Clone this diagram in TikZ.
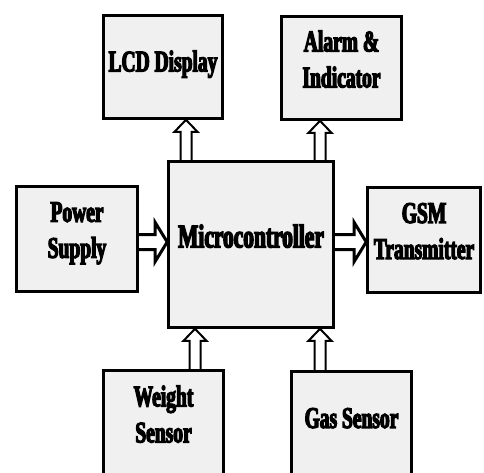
\documentclass[tikz,border=0pt]{standalone}
\usepackage{fontspec}
\usetikzlibrary{calc,backgrounds}
\newfontfamily\lblfont{Liberation Serif}[UprightFont=* Bold, FakeStretch=0.65, FakeBold=4]
\definecolor{boxgray}{HTML}{F0F0F0}

\begin{document}
\begin{tikzpicture}[x=1pt,y=1pt,
    box/.style={draw, line width=2.6pt, fill=boxgray, align=center, inner sep=0pt,
        font=\lblfont\fontsize{30}{36}\selectfont, text depth=18pt},
    % hollow block arrow: shaft half width / head half width / head length
    hollow/.style args={#1/#2/#3}{draw, fill=white, to path={
        ($(\tikztostart)!#1!90:(\tikztotarget)$)
        -- ($($(\tikztotarget)!#3!(\tikztostart)$)!#1!-90:(\tikztostart)$)
        -- ($($(\tikztotarget)!#3!(\tikztostart)$)!#2!-90:(\tikztostart)$)
        -- (\tikztotarget)
        -- ($($(\tikztotarget)!#3!(\tikztostart)$)!#2!90:(\tikztostart)$)
        -- ($($(\tikztotarget)!#3!(\tikztostart)$)!#1!90:(\tikztostart)$)
        -- ($(\tikztostart)!#1!-90:(\tikztotarget)$)}},
    upar/.style={hollow=5.5pt/11.5pt/12pt, line width=2pt},
    sidear/.style={hollow=7.5pt/19.5pt/12pt, line width=3pt}]

    \useasboundingbox (0,0) rectangle (484,472);
    \clip (0,0) rectangle (484,472);

    \node[box, minimum width=119pt, minimum height=103pt, text depth=12pt] (lcd) at (163,405) {LCD Display};
    \node[box, minimum width=120pt, minimum height=103pt] (alarm) at (341.5,404) {Alarm \&\\Indicator};
    \node[box, minimum width=165pt, minimum height=166pt, text depth=17pt,
        font=\lblfont\fontsize{33}{36}\selectfont] (mcu) at (251,227.5) {Microcontroller};
    \node[box, minimum width=121pt, minimum height=105pt] (power) at (77,233) {Power\\Supply};
    \node[box, minimum width=113pt, minimum height=105pt] (gsm) at (424,232) {GSM\\Transmitter};
    \node[box, minimum width=120pt, minimum height=105pt] (weight) at (163.5,49) {Weight\\Sensor};
    \node[box, minimum width=120pt, minimum height=105pt, text depth=12pt] (gas) at (351.5,48) {Gas Sensor};

    \begin{scope}[on background layer]
    \draw[upar] ([xshift=-65pt]mcu.north) to ([xshift=-65pt]mcu.north |- lcd.south);
    \draw[upar] ([xshift=69pt]mcu.north) to ([xshift=69pt]mcu.north |- alarm.south);
    \draw[upar] ([xshift=-56pt]mcu.south |- weight.north) to ([xshift=-56pt]mcu.south);
    \draw[upar] ([xshift=69pt]mcu.south |- gas.north) to ([xshift=69pt]mcu.south);
    \draw[sidear] ([yshift=2.5pt]mcu.west -| power.east) to ([yshift=2.5pt]mcu.west);
    \draw[sidear] ([yshift=2.5pt]mcu.east) to ([yshift=2.5pt]mcu.east -| gsm.west);
    \end{scope}
\end{tikzpicture}
\end{document}
